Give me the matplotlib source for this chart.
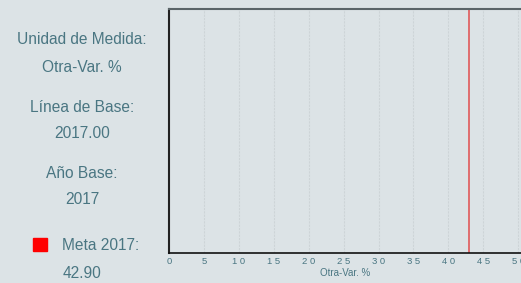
import matplotlib.pyplot as plt

bg = '#dce3e6'
txt = '#4a7682'

info_labels = ["Unidad de Medida:", "Otra-Var. %", "Línea de Base:", "2017.00", "Año Base:", "2017"]
info_y = [40, 67, 107, 133, 173, 199]
meta_label = "Meta 2017:"
meta_value = 42.90
ticks = [0, 5, 10, 15, 20, 25, 30, 35, 40, 45, 50]
x_label = "Otra-Var. %"

plt.rcParams['font.family'] = ['Liberation Sans', 'DejaVu Sans']

fig = plt.figure(figsize=(5.21, 2.83), dpi=100, facecolor=bg)
W, H = 521, 283

for s, y in zip(info_labels, info_y):
    fig.text(82 / W, 1 - y / H, s, ha='center', va='center', fontsize=11.2, color=txt)

fig.text(101 / W, 1 - 245 / H, meta_label, ha='center', va='center', fontsize=11.2, color=txt)
fig.patches.append(plt.Rectangle((33 / W, 1 - 251 / H), 14 / W, 13 / H,
                                 transform=fig.transFigure, color='red', figure=fig))
fig.text(82 / W, 1 - 273 / H, f"{meta_value:.2f}", ha='center', va='center', fontsize=11.2, color=txt)

ax = fig.add_axes([169 / W, 1 - 253 / H, (W - 169) / W, (253 - 9) / H])
ax.set_facecolor(bg)
ax.set_xlim(0, 50.4)
ax.set_ylim(0, 1)
ax.set_yticks([])
ax.set_xticks(ticks)
ax.set_xticklabels([" ".join(str(t)) for t in ticks], fontsize=6.8, color=txt)
ax.tick_params(axis='x', length=0, pad=3)
ax.set_xlabel(x_label, fontsize=7, color=txt, labelpad=1)
ax.grid(axis='x', color='#cdd4d7', linestyle=(0, (2, 1)), linewidth=0.8)
ax.axvline(meta_value, color='#e05a5a', linewidth=1.2)
ax.spines['top'].set_color('#5a6468')
ax.spines['top'].set_linewidth(1.5)
ax.spines['left'].set_color('#222222')
ax.spines['left'].set_linewidth(1.5)
ax.spines['bottom'].set_color('#111111')
ax.spines['bottom'].set_linewidth(1.2)
ax.spines['right'].set_visible(False)

fig.savefig('out.png', dpi=100, facecolor=bg)
